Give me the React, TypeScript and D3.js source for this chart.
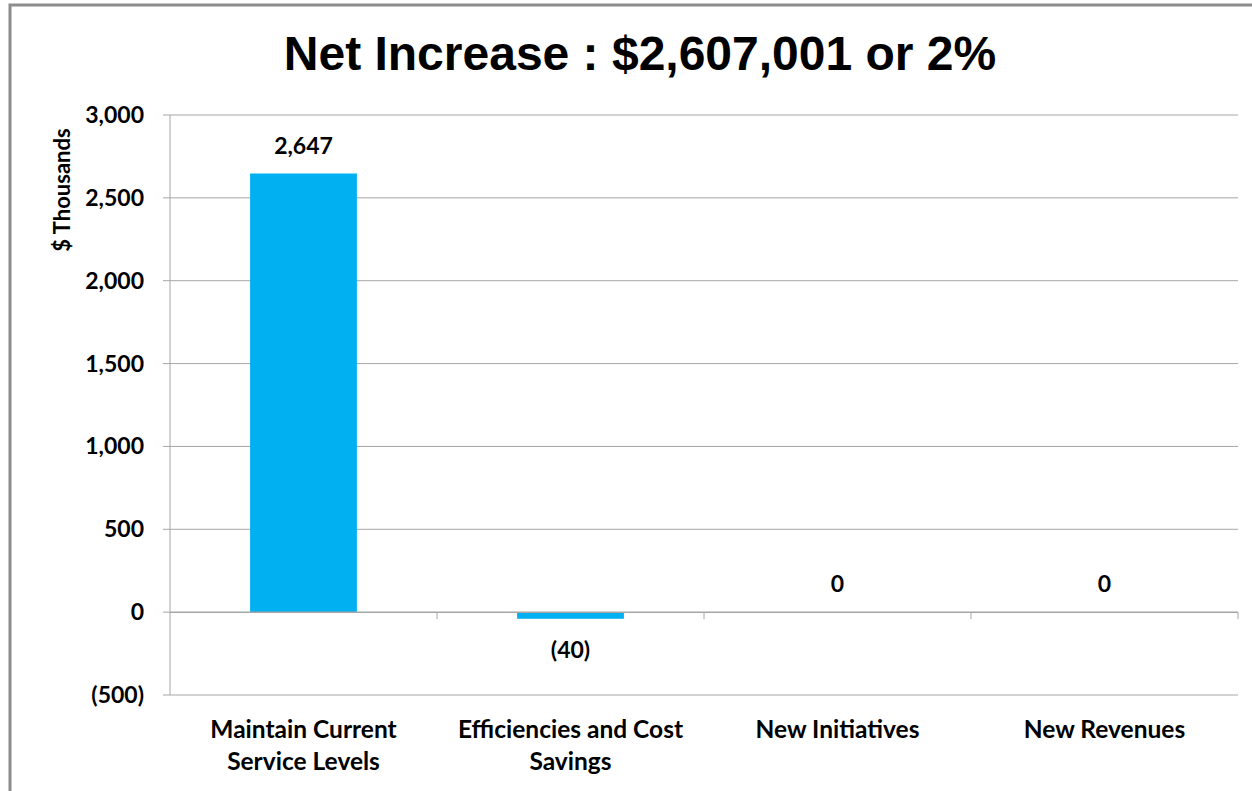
import React from "react";
import * as d3 from "d3";

const categories = [
  ["Maintain Current", "Service Levels"],
  ["Efficiencies and Cost", "Savings"],
  ["New Initiatives"],
  ["New Revenues"],
];
const values = [2647, -40, 0, 0];
const yTicks = [-500, 0, 500, 1000, 1500, 2000, 2500, 3000];
const title = "Net Increase : $2,607,001 or 2%";
const yTitle = "$ Thousands";

const fmt = (v: number) => {
  const s = d3.format(",")(Math.abs(v));
  return v < 0 ? `(${s})` : s;
};

export default function App() {
  const W = 1252, H = 791;
  const left = 170, right = 1238, top = 115, bottom = 695;
  const x = d3.scaleBand<number>().domain(d3.range(categories.length)).range([left, right]).paddingInner(0.6).paddingOuter(0.3);
  const xb = d3.scaleBand<number>().domain(d3.range(categories.length)).range([left, right]);
  const y = d3.scaleLinear().domain([-500, 3000]).range([bottom, top]);
  const font = "Lato, 'Open Sans', sans-serif";
  const grid = "#a6a6a6";
  return (
    <svg width={W} height={H} style={{ position: "absolute", left: 0, top: 0 }}>
      <rect x={0} y={0} width={W} height={H} fill="#fff" />
      <rect x={10} y={5} width={W + 20} height={H + 20} fill="none" stroke="#8c8c8c" strokeWidth={3} />
      <text x={640} y={70} textAnchor="middle" fontFamily="'Liberation Sans', Arial, sans-serif" fontWeight="bold" fontSize={48} fill="#000">{title}</text>
      {yTicks.map((t) => (
        <g key={t}>
          {t !== -500 && t !== 0 && <line x1={left} x2={right} y1={y(t)} y2={y(t)} stroke={grid} strokeWidth={1} />}
          <line x1={left - 7} x2={left} y1={y(t)} y2={y(t)} stroke={grid} strokeWidth={1} />
          <text x={144} y={y(t)} dy="0.35em" textAnchor="end" fontFamily={font} fontWeight="bold" fontSize={23} fill="#000">{fmt(t)}</text>
        </g>
      ))}
      <line x1={left} x2={right} y1={y(-500)} y2={y(-500)} stroke={grid} strokeWidth={1} />
      <line x1={left} x2={left} y1={top} y2={bottom} stroke={grid} strokeWidth={1} />
      {values.map((v, i) => (
        <rect key={i} x={x(i)} width={x.bandwidth()} y={y(Math.max(0, v))} height={Math.abs(y(v) - y(0))} fill="#00b0f0" />
      ))}
      <line x1={left} x2={right} y1={y(0)} y2={y(0)} stroke={grid} strokeWidth={1.5} />
      {d3.range(categories.length).map((i) => (
        <line key={i} x1={(xb(i) as number) + xb.bandwidth()} x2={(xb(i) as number) + xb.bandwidth()} y1={y(0)} y2={y(0) + 7} stroke={grid} strokeWidth={1} />
      ))}
      {values.map((v, i) => (
        <text key={i} x={(x(i) as number) + x.bandwidth() / 2} y={v >= 0 ? y(v) - 28 : y(v) + 31} dy="0.35em" textAnchor="middle" fontFamily={font} fontWeight="bold" fontSize={23} fill="#000">{fmt(v)}</text>
      ))}
      {categories.map((lines, i) => (
        <text key={i} textAnchor="middle" fontFamily={font} fontWeight="bold" fontSize={24.5} fill="#000">
          {lines.map((l, j) => (
            <tspan key={j} x={(xb(i) as number) + xb.bandwidth() / 2} y={738 + j * 32}>{l}</tspan>
          ))}
        </text>
      ))}
      <text transform={`translate(70,190) rotate(-90)`} textAnchor="middle" fontFamily={font} fontWeight="bold" fontSize={22} fill="#000">{yTitle}</text>
    </svg>
  );
}
